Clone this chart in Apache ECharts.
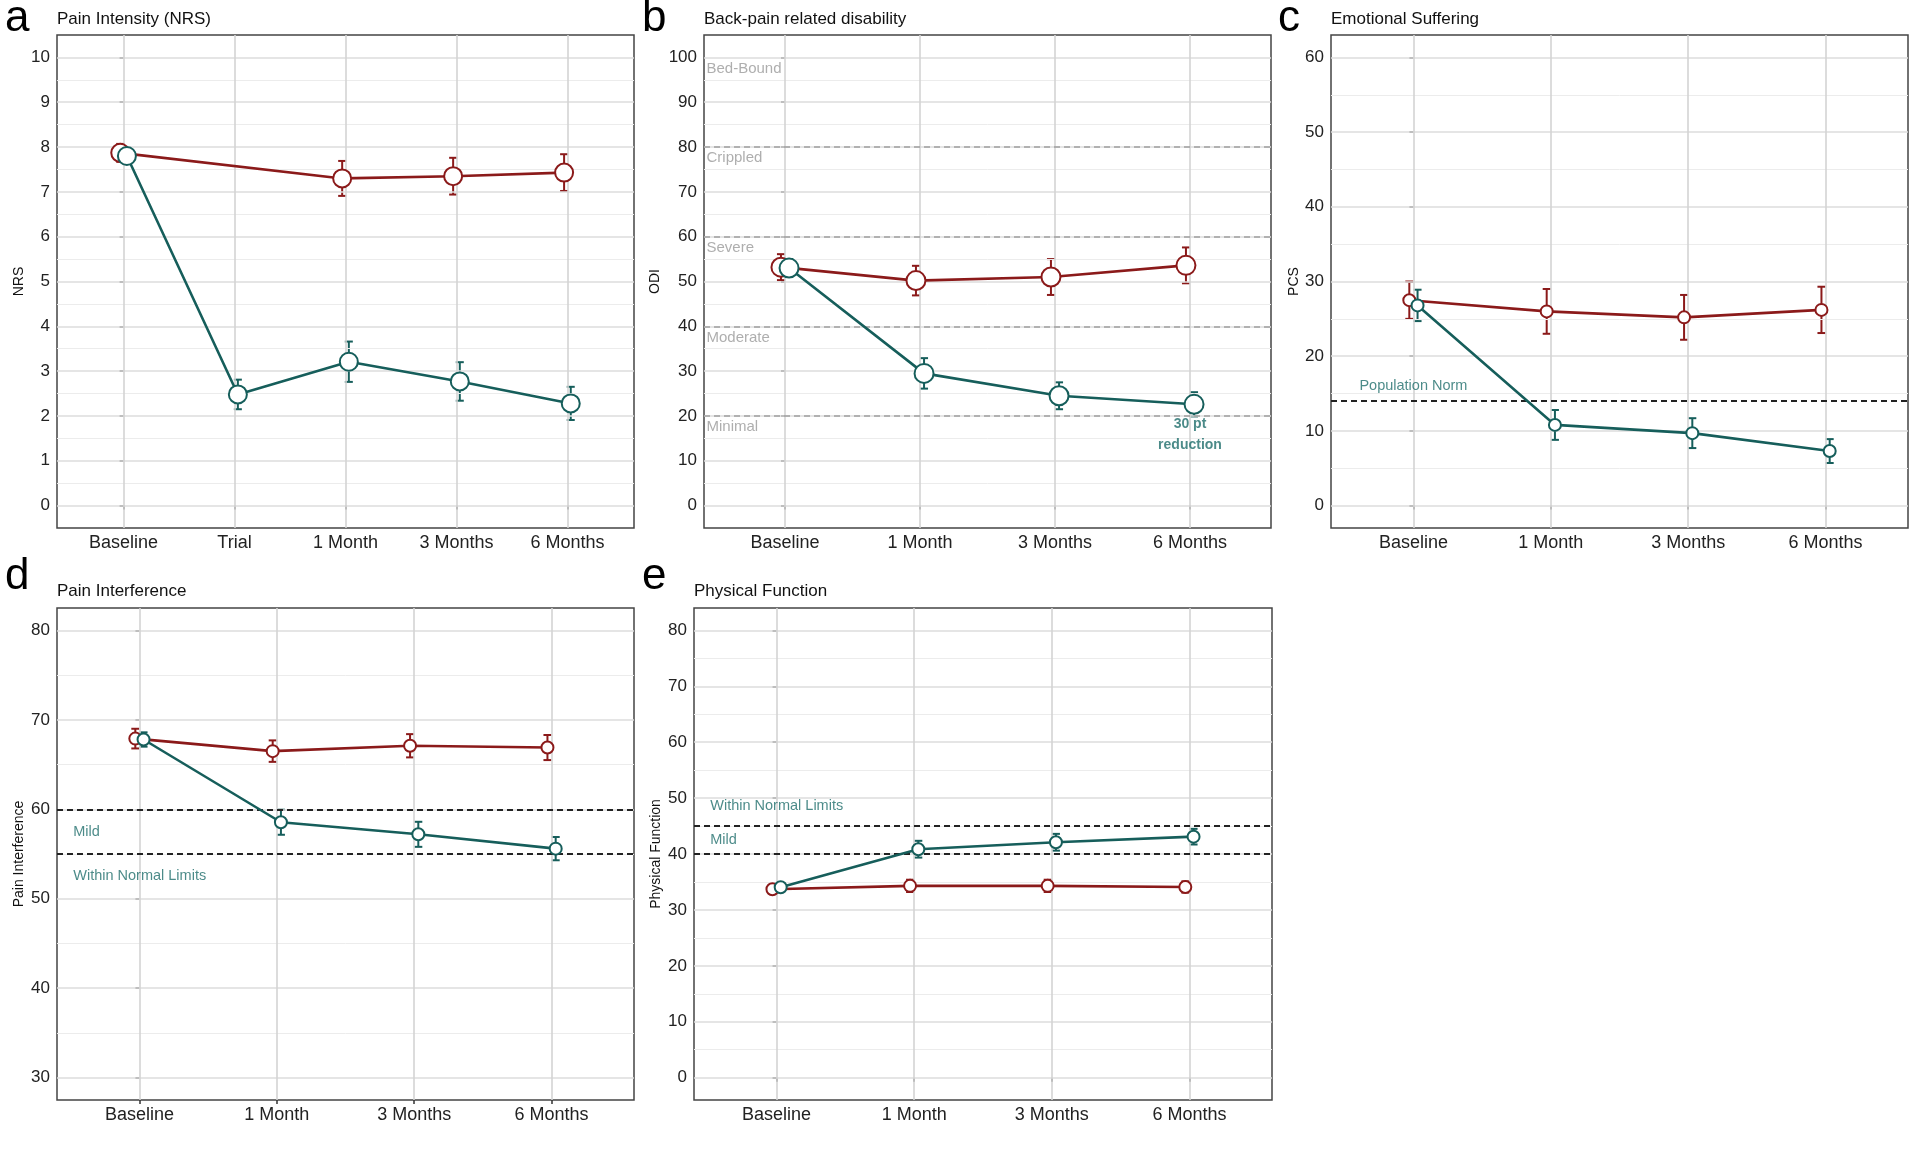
<!DOCTYPE html>
<html><head><meta charset="utf-8">
<script src="https://cdn.jsdelivr.net/npm/echarts@6/dist/echarts.min.js"></script>
<style>html,body{margin:0;padding:0;background:#fff}#c{width:1920px;height:1155px}</style>
</head><body><div id="c"></div>
<script>
// ---------- categories ----------
const catsA = ['Baseline', 'Trial', '1 Month', '3 Months', '6 Months'];
const cats = ['Baseline', '1 Month', '3 Months', '6 Months'];

// ---------- a: Pain Intensity (NRS) ----------
const nrsTeal = [7.80, 2.48, 3.21, 2.77, 2.28];
const nrsTealSe = [0.15, 0.33, 0.45, 0.43, 0.37];
const nrsRed = [7.87, null, 7.30, 7.35, 7.43];
const nrsRedSe = [0.20, null, 0.39, 0.41, 0.41];

// ---------- b: ODI ----------
const odiTeal = [53.0, 29.5, 24.5, 22.6];
const odiTealSe = [2.0, 3.4, 3.0, 2.7];
const odiRed = [53.2, 50.2, 51.0, 53.6];
const odiRedSe = [2.9, 3.3, 4.0, 4.0];
const odiCutoffs = [20, 40, 60, 80];
const odiBandNames = ['Bed-Bound', 'Crippled', 'Severe', 'Moderate', 'Minimal'];
const odiBandY = [97.5, 77.5, 57.5, 37.5, 17.5];

// ---------- c: PCS ----------
const pcsTeal = [26.8, 10.8, 9.7, 7.3];
const pcsTealSe = [2.1, 2.0, 2.0, 1.6];
const pcsRed = [27.5, 26.0, 25.2, 26.2];
const pcsRedSe = [2.5, 3.0, 3.0, 3.1];
const pcsNorm = 14;

// ---------- d: Pain Interference ----------
const piTeal = [67.8, 58.55, 57.2, 55.6];
const piTealSe = [0.8, 1.4, 1.4, 1.3];
const piRed = [67.9, 66.5, 67.1, 66.9];
const piRedSe = [1.1, 1.2, 1.3, 1.4];
const piCutoffs = [55, 60];

// ---------- e: Physical Function ----------
const pfTeal = [34.06, 40.86, 42.1, 43.1];
const pfTealSe = [0.6, 1.5, 1.5, 1.4];
const pfRed = [33.7, 34.3, 34.3, 34.1];
const pfRedSe = [0.8, 1.1, 1.1, 1.0];
const pfCutoffs = [40, 45];

// ---------- tick labels ----------
const ticksA = [0,1,2,3,4,5,6,7,8,9,10];
const ticksB = [0,10,20,30,40,50,60,70,80,90,100];
const ticksC = [0,10,20,30,40,50,60];
const ticksD = [30,40,50,60,70,80];
const ticksE = [0,10,20,30,40,50,60,70,80];

// ---------- styles ----------
const FONT = '"Liberation Sans", Arial, Helvetica, sans-serif';
const RED = '#8b1a1a';
const TEAL = '#165e5b';
const TEALTXT = '#1f6e6b';
const GRAYTXT = '#9a9a9a';
const MAJOR = '#dcdcdc';
const MINOR = '#ececec';
const VCOL = '#d4d4d4';

function midpoints(t) { const r = []; for (let i = 0; i < t.length - 1; i++) r.push((t[i] + t[i + 1]) / 2); return r; }

const grids = [], xAxes = [], yAxes = [], series = [];

function panel(gi, p) {
  grids.push(Object.assign({ show: true, borderColor: '#444', borderWidth: 1.5, backgroundColor: '#fff', containLabel: false }, p.grid));
  const n = p.cats.length;
  xAxes.push({
    type: 'value', gridIndex: gi, min: -0.6, max: n - 0.4,
    splitLine: { show: false }, axisLine: { show: false },
    axisTick: { show: true, customValues: p.cats.map((c, i) => i), length: 4, lineStyle: { color: '#333', width: 1.5 } },
    axisLabel: { customValues: p.cats.map((c, i) => i), formatter: v => p.cats[Math.round(v)], margin: 6,
      fontSize: 18, color: '#222', fontFamily: FONT }
  });
  yAxes.push({
    type: 'value', gridIndex: gi, min: p.yMin, max: p.yMax,
    splitLine: { show: false }, axisLine: { show: false },
    axisTick: { show: true, customValues: p.ticks, length: 4, lineStyle: { color: '#333', width: 1.5 } },
    axisLabel: { customValues: p.ticks, margin: 7, fontSize: 17, color: '#222', fontFamily: FONT },
    name: p.yName, nameLocation: 'middle', nameRotate: 90, nameGap: p.nameGap,
    nameTextStyle: { fontSize: 14, color: '#111', fontFamily: FONT }
  });
  // gridlines through the axis scales
  const gl = [];
  midpoints(p.ticks).forEach(v => gl.push({ yAxis: v, lineStyle: { color: MINOR, width: 1, type: 'solid' } }));
  p.ticks.forEach(v => gl.push({ yAxis: v, lineStyle: { color: MAJOR, width: 1.6, type: 'solid' } }));
  p.cats.forEach((c, i) => gl.push({ xAxis: i, lineStyle: { color: VCOL, width: 1.6, type: 'solid' } }));
  series.push({ type: 'scatter', xAxisIndex: gi, yAxisIndex: gi, data: [], z: 1, silent: true,
    markLine: { silent: true, symbol: ['none', 'none'], label: { show: false }, animation: false, data: gl } });
  // reference lines
  if (p.refs && p.refs.length) {
    series.push({ type: 'scatter', xAxisIndex: gi, yAxisIndex: gi, data: [], z: 2, silent: true,
      markLine: { silent: true, symbol: ['none', 'none'], label: { show: false }, animation: false,
        data: p.refs.map(v => ({ yAxis: v, lineStyle: { color: p.refColor, width: p.refWidth, type: [6, 4] } })) } });
  }
  // groups: red first, teal on top
  p.groups.forEach((g, k) => {
    const pts = [], errs = [];
    g.mean.forEach((m, i) => {
      if (m == null) return;
      const x = i + g.dodge;
      pts.push([x, m]);
      errs.push([x, m - g.se[i], m + g.se[i]]);
    });
    series.push({
      type: 'custom', xAxisIndex: gi, yAxisIndex: gi, z: 3 + k, silent: true, data: errs,
      renderItem: (params, api) => {
        const x = api.value(0);
        const lo = api.coord([x, api.value(1)]), hi = api.coord([x, api.value(2)]);
        const cap = p.cap;
        const st = { stroke: g.color, lineWidth: 2 };
        return { type: 'group', children: [
          { type: 'line', shape: { x1: lo[0], y1: lo[1], x2: hi[0], y2: hi[1] }, style: st },
          { type: 'line', shape: { x1: lo[0] - cap, y1: lo[1], x2: lo[0] + cap, y2: lo[1] }, style: st },
          { type: 'line', shape: { x1: hi[0] - cap, y1: hi[1], x2: hi[0] + cap, y2: hi[1] }, style: st }
        ] };
      }
    });
    series.push({
      type: 'line', xAxisIndex: gi, yAxisIndex: gi, z: 5 + k, data: pts, silent: true,
      showSymbol: true, symbol: 'circle', symbolSize: p.size,
      lineStyle: { color: g.color, width: 2.6 },
      itemStyle: { color: '#fff', borderColor: g.color, borderWidth: 2 },
      emphasis: { disabled: true }
    });
  });
  // text annotations
  if (p.texts && p.texts.length) {
    series.push({
      type: 'scatter', xAxisIndex: gi, yAxisIndex: gi, z: 8, silent: true, symbolSize: 1,
      itemStyle: { color: 'rgba(0,0,0,0)' },
      data: p.texts.map(t => ({ value: [t.x, t.y], label: {
        show: true, formatter: t.text, position: t.center ? 'inside' : 'right', distance: t.center ? 0 : 2,
        align: t.center ? 'center' : 'left', verticalAlign: 'middle',
        color: t.color, fontSize: t.size || 14.5, fontWeight: t.bold ? 'bold' : 'normal',
        lineHeight: t.lh || 18, fontFamily: FONT } }))
    });
  }
}

const DODGE = 0.03;

panel(0, {
  grid: { left: 57, top: 35, width: 577, height: 493 },
  cats: catsA, yMin: -0.5, yMax: 10.5, ticks: ticksA, yName: 'NRS', nameGap: 31, size: 18, cap: 4,
  groups: [
    { mean: nrsRed, se: nrsRedSe, color: RED, dodge: -DODGE },
    { mean: nrsTeal, se: nrsTealSe, color: TEAL, dodge: DODGE }
  ]
});
panel(1, {
  grid: { left: 704, top: 35, width: 567, height: 493 },
  cats: cats, yMin: -5, yMax: 105, ticks: ticksB, yName: 'ODI', nameGap: 42, size: 19, cap: 4,
  refs: odiCutoffs, refColor: '#a0a0a0', refWidth: 1.6,
  groups: [
    { mean: odiRed, se: odiRedSe, color: RED, dodge: -DODGE },
    { mean: odiTeal, se: odiTealSe, color: TEAL, dodge: DODGE }
  ],
  texts: odiBandNames.map((t, i) => ({ x: -0.6, y: odiBandY[i], text: t, color: GRAYTXT, size: 15 }))
    .concat([{ x: 3, y: 15.8, text: '30 pt\nreduction', color: TEALTXT, bold: true, center: true, size: 14, lh: 21 }])
});
panel(2, {
  grid: { left: 1331, top: 35, width: 577, height: 493 },
  cats: cats, yMin: -3, yMax: 63, ticks: ticksC, yName: 'PCS', nameGap: 20, size: 12, cap: 4,
  refs: [pcsNorm], refColor: '#222', refWidth: 1.8,
  groups: [
    { mean: pcsRed, se: pcsRedSe, color: RED, dodge: -DODGE },
    { mean: pcsTeal, se: pcsTealSe, color: TEAL, dodge: DODGE }
  ],
  texts: [{ x: 0, y: 16, text: 'Population Norm', color: TEALTXT, center: true }]
});
panel(3, {
  grid: { left: 57, top: 608, width: 577, height: 492 },
  cats: cats, yMin: 27.5, yMax: 82.5, ticks: ticksD, yName: 'Pain Interference', nameGap: 31, size: 12, cap: 4,
  refs: piCutoffs, refColor: '#222', refWidth: 1.8,
  groups: [
    { mean: piRed, se: piRedSe, color: RED, dodge: -DODGE },
    { mean: piTeal, se: piTealSe, color: TEAL, dodge: DODGE }
  ],
  texts: [
    { x: -0.5, y: 57.5, text: 'Mild', color: TEALTXT },
    { x: -0.5, y: 52.5, text: 'Within Normal Limits', color: TEALTXT }
  ]
});
panel(4, {
  grid: { left: 694, top: 608, width: 578, height: 492 },
  cats: cats, yMin: -4, yMax: 84, ticks: ticksE, yName: 'Physical Function', nameGap: 31, size: 12, cap: 4,
  refs: pfCutoffs, refColor: '#222', refWidth: 1.8,
  groups: [
    { mean: pfRed, se: pfRedSe, color: RED, dodge: -DODGE },
    { mean: pfTeal, se: pfTealSe, color: TEAL, dodge: DODGE }
  ],
  texts: [
    { x: -0.5, y: 48.5, text: 'Within Normal Limits', color: TEALTXT },
    { x: -0.5, y: 42.5, text: 'Mild', color: TEALTXT }
  ]
});

const titleStyle = { fontSize: 17, color: '#111', fontWeight: 'normal', fontFamily: FONT, lineHeight: 17 };
const letterStyle = { fontSize: 44, color: '#000', fontWeight: 'normal', fontFamily: FONT, lineHeight: 44 };
const titles = [
  { text: 'a', left: 5, top: -3, padding: 0, textStyle: letterStyle },
  { text: 'b', left: 642, top: -3, padding: 0, textStyle: letterStyle },
  { text: 'c', left: 1278, top: -3, padding: 0, textStyle: letterStyle },
  { text: 'd', left: 5, top: 555, padding: 0, textStyle: letterStyle },
  { text: 'e', left: 642, top: 555, padding: 0, textStyle: letterStyle },
  { text: 'Pain Intensity (NRS)', left: 57, top: 11, padding: 0, textStyle: titleStyle },
  { text: 'Back-pain related disability', left: 704, top: 11, padding: 0, textStyle: titleStyle },
  { text: 'Emotional Suffering', left: 1331, top: 11, padding: 0, textStyle: titleStyle },
  { text: 'Pain Interference', left: 57, top: 583, padding: 0, textStyle: titleStyle },
  { text: 'Physical Function', left: 694, top: 583, padding: 0, textStyle: titleStyle }
];

const chart = echarts.init(document.getElementById('c'), null, { renderer: 'canvas' });
chart.setOption({
  animation: false,
  backgroundColor: '#fff',
  title: titles,
  grid: grids,
  xAxis: xAxes,
  yAxis: yAxes,
  series: series
});
</script>
</body></html>
